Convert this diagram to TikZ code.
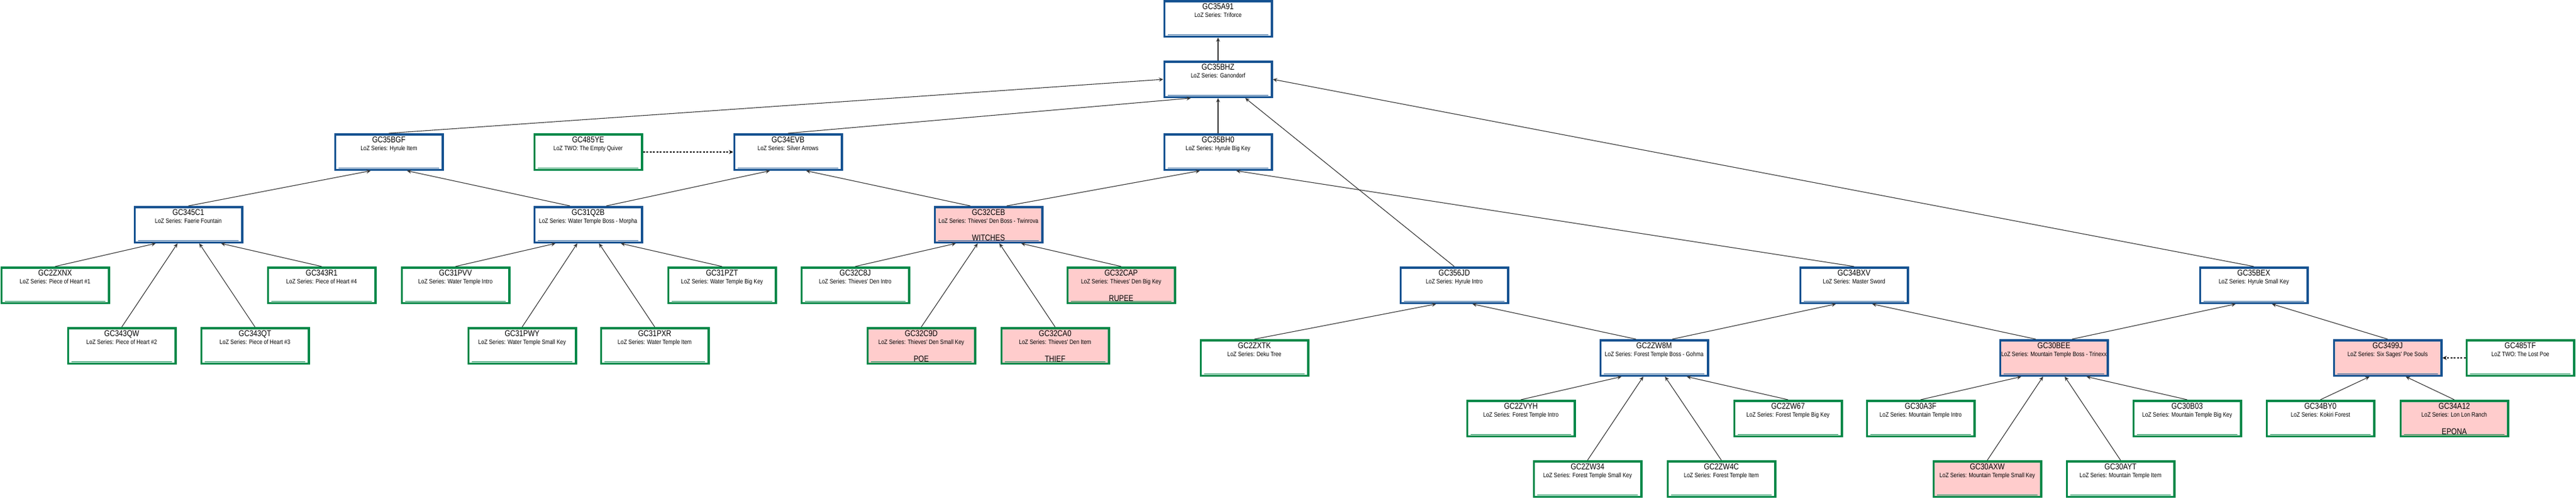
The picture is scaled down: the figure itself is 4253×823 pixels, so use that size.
\documentclass[tikz,border=0pt]{standalone}
\usepackage{fontspec}
\newfontfamily\gcsans[FakeStretch=0.84]{Liberation Sans}
\usepackage{tikz}
\usetikzlibrary{arrows.meta}

\definecolor{gcblue}{RGB}{21,82,145}
\definecolor{gcgreen}{RGB}{0,136,72}
\definecolor{gcpink}{RGB}{255,204,204}

\tikzset{
  box/.style={draw, line width=3.5pt, minimum width=177.5pt, minimum height=58.5pt,
    inner sep=0pt, fill=white,
    path picture={\draw[line width=1pt]
      ([xshift=6pt,yshift=2.8pt]path picture bounding box.south west) --
      ([xshift=-6pt,yshift=2.8pt]path picture bounding box.south east);}},
  series/.style={box, draw=gcblue},
  leaf/.style={box, draw=gcgreen},
  found/.style={fill=gcpink},
  code/.style={font=\gcsans\fontsize{14}{14}\selectfont, inner sep=0pt, anchor=base},
  title/.style={font=\gcsans\fontsize{10.5}{10.5}\selectfont, inner sep=0pt, anchor=base},
  word/.style={code},
  link/.style={->, draw=black!80, line width=1.1pt},
  hint/.style={->, draw=black, dash pattern=on 3pt off 2.5pt, line width=1.1pt},
  >={Stealth[length=7pt,width=6.5pt,inset=2.5pt]}
}

% name, box style, centre, series line
\newcommand{\cachebox}[4]{%
  \node[#2] (#1) at (#3) {};
  \node[code] (#1-c) at ([yshift=-15pt]#1.north) {#1};
  \node[title] (#1-t) at ([yshift=-28.5pt]#1.north) {#4};
}

\begin{document}
\begin{tikzpicture}[x=1pt,y=-1pt]
      \useasboundingbox (0,0) rectangle (4253,823);

      \cachebox{GC35A91}{series}{2011,31}{LoZ Series: Triforce}
      \cachebox{GC35BHZ}{series}{2011,131}{LoZ Series: Ganondorf}

      \cachebox{GC35BGF}{series}{642,251}{LoZ Series: Hyrule Item}
      \cachebox{GC485YE}{leaf}{971,251}{LoZ TWO: The Empty Quiver}
      \cachebox{GC34EVB}{series}{1301,251}{LoZ Series: Silver Arrows}
      \cachebox{GC35BH0}{series}{2011,251}{LoZ Series: Hyrule Big Key}

      \cachebox{GC345C1}{series}{311,371}{LoZ Series: Faerie Fountain}
      \cachebox{GC31Q2B}{series}{971,371}{LoZ Series: Water Temple Boss - Morpha}
      \cachebox{GC32CEB}{series,found}{1632,371}{LoZ Series: Thieves' Den Boss - Twinrova}

      \cachebox{GC2ZXNX}{leaf}{91,471}{LoZ Series: Piece of Heart \#1}
      \cachebox{GC343R1}{leaf}{531,471}{LoZ Series: Piece of Heart \#4}
      \cachebox{GC31PVV}{leaf}{752,471}{LoZ Series: Water Temple Intro}
      \cachebox{GC31PZT}{leaf}{1192,471}{LoZ Series: Water Temple Big Key}
      \cachebox{GC32C8J}{leaf}{1412,471}{LoZ Series: Thieves' Den Intro}
      \cachebox{GC32CAP}{leaf,found}{1851,471}{LoZ Series: Thieves' Den Big Key}

      \cachebox{GC343QW}{leaf}{201,571}{LoZ Series: Piece of Heart \#2}
      \cachebox{GC343QT}{leaf}{421,571}{LoZ Series: Piece of Heart \#3}
      \cachebox{GC31PWY}{leaf}{862,571}{LoZ Series: Water Temple Small Key}
      \cachebox{GC31PXR}{leaf}{1081,571}{LoZ Series: Water Temple Item}
      \cachebox{GC32C9D}{leaf,found}{1521,571}{LoZ Series: Thieves' Den Small Key}
      \cachebox{GC32CA0}{leaf,found}{1742,571}{LoZ Series: Thieves' Den Item}

      \cachebox{GC356JD}{series}{2401,471}{LoZ Series: Hyrule Intro}
      \cachebox{GC34BXV}{series}{3061,471}{LoZ Series: Master Sword}
      \cachebox{GC35BEX}{series}{3721,471}{LoZ Series: Hyrule Small Key}

      \cachebox{GC2ZXTK}{leaf}{2071,591}{LoZ Series: Deku Tree}
      \cachebox{GC2ZW8M}{series}{2731,591}{LoZ Series: Forest Temple Boss - Gohma}
      \cachebox{GC30BEE}{series,found}{3391,591}{LoZ Series: Mountain Temple Boss - Trinexx}
      \cachebox{GC3499J}{series,found}{3942,591}{LoZ Series: Six Sages' Poe Souls}
      \cachebox{GC485TF}{leaf}{4161,591}{LoZ TWO: The Lost Poe}

      \cachebox{GC2ZVYH}{leaf}{2511,691}{LoZ Series: Forest Temple Intro}
      \cachebox{GC2ZW67}{leaf}{2952,691}{LoZ Series: Forest Temple Big Key}
      \cachebox{GC30A3F}{leaf}{3171,691}{LoZ Series: Mountain Temple Intro}
      \cachebox{GC30B03}{leaf}{3611,691}{LoZ Series: Mountain Temple Big Key}
      \cachebox{GC34BY0}{leaf}{3831,691}{LoZ Series: Kokiri Forest}
      \cachebox{GC34A12}{leaf,found}{4052,691}{LoZ Series: Lon Lon Ranch}

      \cachebox{GC2ZW34}{leaf}{2621,791}{LoZ Series: Forest Temple Small Key}
      \cachebox{GC2ZW4C}{leaf}{2842,791}{LoZ Series: Forest Temple Item}
      \cachebox{GC30AXW}{leaf,found}{3281,791}{LoZ Series: Mountain Temple Small Key}
      \cachebox{GC30AYT}{leaf}{3501,791}{LoZ Series: Mountain Temple Item}

      % solved words
      \node[word] (GC32CEB-w) at ([yshift=4.5pt]GC32CEB.south) {WITCHES};
      \node[word] (GC32CAP-w) at ([yshift=4.5pt]GC32CAP.south) {RUPEE};
      \node[word] (GC32C9D-w) at ([yshift=4.5pt]GC32C9D.south) {POE};
      \node[word] (GC32CA0-w) at ([yshift=4.5pt]GC32CA0.south) {THIEF};
      \node[word] (GC34A12-w) at ([yshift=4.5pt]GC34A12.south) {EPONA};

      % top levels
      \draw[link] (GC35BHZ.north) to (GC35A91.south);
      \draw[link] (GC35BGF.north) to (GC35BHZ.west);
      \draw[link] (GC34EVB.north) to ([xshift=-45pt]GC35BHZ.south);
      \draw[link] (GC35BH0.north) to (GC35BHZ.south);
      \draw[link] (GC356JD.north) to ([xshift=45pt]GC35BHZ.south);
      \draw[link] (GC35BEX.north) to (GC35BHZ.east);

      \draw[link] (GC345C1.north) to ([xshift=-30pt]GC35BGF.south);
      \draw[link] ([xshift=-30pt]GC31Q2B.north) to ([xshift=30pt]GC35BGF.south);
      \draw[hint] (GC485YE.east) to (GC34EVB.west);
      \draw[link] ([xshift=30pt]GC31Q2B.north) to ([xshift=-30pt]GC34EVB.south);
      \draw[link] ([xshift=-30pt]GC32CEB.north) to ([xshift=30pt]GC34EVB.south);
      \draw[link] ([xshift=30pt]GC32CEB.north) to ([xshift=-30pt]GC35BH0.south);
      \draw[link] (GC34BXV.north) to ([xshift=30pt]GC35BH0.south);

      % left branches
      \draw[link] (GC2ZXNX.north) to ([xshift=-54pt]GC345C1.south);
      \draw[link] (GC343QW.north) to ([xshift=-18pt]GC345C1.south);
      \draw[link] (GC343QT.north) to ([xshift=18pt]GC345C1.south);
      \draw[link] (GC343R1.north) to ([xshift=54pt]GC345C1.south);

      \draw[link] (GC31PVV.north) to ([xshift=-54pt]GC31Q2B.south);
      \draw[link] (GC31PWY.north) to ([xshift=-18pt]GC31Q2B.south);
      \draw[link] (GC31PXR.north) to ([xshift=18pt]GC31Q2B.south);
      \draw[link] (GC31PZT.north) to ([xshift=54pt]GC31Q2B.south);

      \draw[link] (GC32C8J.north) to ([xshift=-54pt]GC32CEB.south);
      \draw[link] (GC32C9D.north) to ([xshift=-18pt]GC32CEB.south);
      \draw[link] (GC32CA0.north) to ([xshift=18pt]GC32CEB.south);
      \draw[link] (GC32CAP.north) to ([xshift=54pt]GC32CEB.south);

      % right branches
      \draw[link] (GC2ZXTK.north) to ([xshift=-30pt]GC356JD.south);
      \draw[link] ([xshift=-30pt]GC2ZW8M.north) to ([xshift=30pt]GC356JD.south);
      \draw[link] ([xshift=30pt]GC2ZW8M.north) to ([xshift=-30pt]GC34BXV.south);
      \draw[link] ([xshift=-30pt]GC30BEE.north) to ([xshift=30pt]GC34BXV.south);
      \draw[link] ([xshift=30pt]GC30BEE.north) to ([xshift=-30pt]GC35BEX.south);
      \draw[link] (GC3499J.north) to ([xshift=30pt]GC35BEX.south);

      \draw[link] (GC2ZVYH.north) to ([xshift=-54pt]GC2ZW8M.south);
      \draw[link] (GC2ZW34.north) to ([xshift=-18pt]GC2ZW8M.south);
      \draw[link] (GC2ZW4C.north) to ([xshift=18pt]GC2ZW8M.south);
      \draw[link] (GC2ZW67.north) to ([xshift=54pt]GC2ZW8M.south);

      \draw[link] (GC30A3F.north) to ([xshift=-54pt]GC30BEE.south);
      \draw[link] (GC30AXW.north) to ([xshift=-18pt]GC30BEE.south);
      \draw[link] (GC30AYT.north) to ([xshift=18pt]GC30BEE.south);
      \draw[link] (GC30B03.north) to ([xshift=54pt]GC30BEE.south);

      \draw[link] (GC34BY0.north) to ([xshift=-30pt]GC3499J.south);
      \draw[link] (GC34A12.north) to ([xshift=30pt]GC3499J.south);
      \draw[hint] (GC485TF.west) to (GC3499J.east);
    \end{tikzpicture}
\end{document}
